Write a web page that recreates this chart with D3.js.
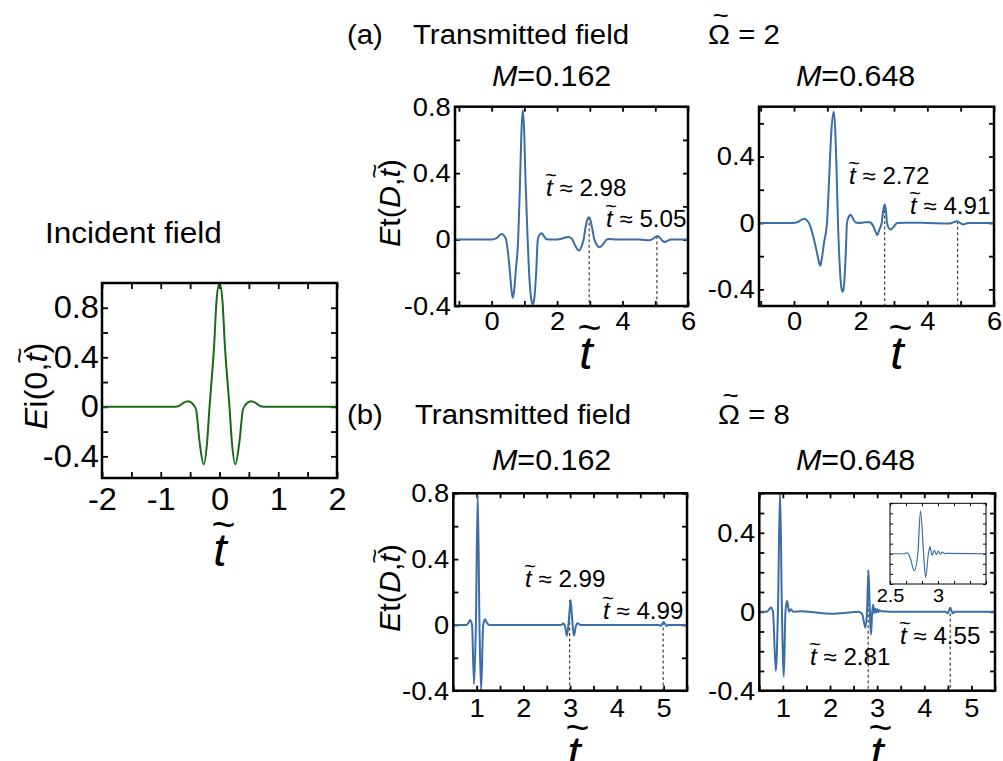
<!doctype html>
<html>
<head>
<meta charset="utf-8">
<style>
  body { margin: 0; background: #fff; }
  svg { display: block; font-family: "Liberation Sans", Arial, sans-serif; }
  text { white-space: pre; fill: #000; }
  .tick line { stroke: #000; stroke-width: 1.8; }
</style>
<script src="https://d3js.org/d3.v7.min.js"></script>
</head>
<body>
<svg width="1003" height="761"></svg>
<script>
// ---- data ----
// incident pulse E_i(0,t)
var incT = [-2, -0.8, -0.7, -0.62, -0.54, -0.47, -0.4, -0.34, -0.27, -0.21, -0.17, -0.12, -0.093, -0.05, 0,
            0.05, 0.093, 0.12, 0.17, 0.21, 0.27, 0.34, 0.4, 0.47, 0.54, 0.62, 0.7, 0.8, 2];
var incE = [0, 0, 0.005, 0.03, 0.045, 0.03, -0.02, -0.28, -0.465, -0.28, 0, 0.3, 0.48, 0.86, 1.0,
            0.86, 0.48, 0.3, 0, -0.28, -0.465, -0.28, -0.02, 0.03, 0.045, 0.03, 0.005, 0, 0];

// (a) Omega=2, M=0.162
var aLoT = [-1.1, 0, 0.15, 0.25, 0.32, 0.39, 0.44, 0.5, 0.56, 0.61, 0.645, 0.68, 0.74, 0.81, 0.86, 0.91, 0.95, 0.99,
            1.04, 1.1, 1.16, 1.22, 1.26, 1.3, 1.36, 1.41, 1.47, 1.53, 1.6, 1.68, 1.9, 2.1, 2.25, 2.35, 2.45, 2.55,
            2.67, 2.74, 2.81, 2.88, 2.94, 2.97, 3.0, 3.06, 3.14, 3.22, 3.3, 3.4, 3.51, 3.6, 3.8, 4.5, 4.84, 4.95,
            5.06, 5.15, 5.22, 5.3, 5.38, 5.5, 6];
var aLoE = [0, 0, 0.008, 0.028, 0.034, 0.02, 0, -0.08, -0.2, -0.31, -0.35, -0.32, -0.18, 0, 0.3, 0.65, 0.78, 0.67,
            0.33, 0, -0.25, -0.37, -0.39, -0.36, -0.2, 0, 0.03, 0.038, 0.02, 0.002, 0, 0.004, 0.012, 0.016, 0.005, -0.035,
            -0.066, -0.045, 0, 0.085, 0.128, 0.134, 0.13, 0.08, 0, -0.035, -0.046, -0.03, 0, 0.004, 0, 0, -0.004, 0.008,
            0.022, 0.01, -0.008, -0.014, -0.006, 0, 0];

// (a) Omega=2, M=0.648
var aHiT = [-1.05, -0.03, 0.1, 0.2, 0.32, 0.4, 0.45, 0.52, 0.6, 0.7, 0.76, 0.79, 0.83, 0.9, 0.99, 1.05, 1.12, 1.19,
            1.24, 1.28, 1.32, 1.37, 1.43, 1.47, 1.51, 1.55, 1.59, 1.65, 1.7, 1.76, 1.85, 2.0, 2.15, 2.27, 2.38, 2.45,
            2.5, 2.56, 2.63, 2.68, 2.72, 2.76, 2.79, 2.84, 2.9, 2.98, 3.1, 3.3, 4.0, 4.67, 4.8, 4.88, 4.98, 5.08,
            5.18, 5.3, 6];
var aHiE = [0, 0, 0.005, 0.016, 0.026, 0.012, 0, -0.04, -0.1, -0.19, -0.245, -0.257, -0.22, -0.12, 0, 0.25, 0.55, 0.67,
            0.55, 0.3, 0, -0.25, -0.4, -0.415, -0.35, -0.2, 0, 0.04, 0.05, 0.03, 0.003, 0, 0.005, 0.004, -0.02, -0.055,
            -0.072, -0.04, 0, 0.08, 0.111, 0.07, 0, -0.03, -0.04, -0.025, 0, 0.002, 0, -0.003, 0.005, 0.01, 0, -0.01,
            -0.002, 0, 0];

// (b) Omega=8, M=0.162
var bLoT = [0.5, 0.78, 0.83, 0.86, 0.9, 0.944, 0.983, 1.023, 1.06, 1.094, 1.14, 1.18, 1.22, 1.27, 2.8, 2.86, 2.9,
            2.93, 2.97, 3.01, 3.045, 3.08, 3.12, 3.16, 3.22, 4.9, 4.94, 5.0, 5.06, 5.1, 5.5];
var bLoE = [0, 0, 0.015, 0.03, 0, -0.36, 0, 0.79, 0, -0.4, 0, 0.034, 0.012, 0, 0, 0.008, -0.02,
            -0.066, 0.02, 0.151, 0.03, -0.066, -0.01, 0.01, 0, 0, -0.006, 0.018, -0.006, 0, 0];

// (b) Omega=8, M=0.648
var bHiT = [0.5, 0.66, 0.72, 0.75, 0.79, 0.85, 0.895, 0.94, 0.98, 1.02, 1.055, 1.09, 1.13, 1.17, 1.22, 1.4, 1.7,
            2.0, 2.3, 2.6, 2.68, 2.75, 2.785, 2.815, 2.845, 2.87, 2.895, 2.917, 2.937, 2.962, 2.983, 3.004, 3.025,
            3.046, 3.09, 3.3, 4.45, 4.5, 4.55, 4.6, 4.65, 5.5];
var bHiE = [0, 0, 0.015, 0.022, 0, -0.3, 0, 0.61, 0, -0.328, 0, 0.056, 0, 0.012, 0, 0.003, -0.004,
            -0.01, -0.006, 0, -0.01, -0.08, 0, 0.21, 0, -0.115, 0, 0.035, -0.008, 0.017, -0.004, 0.013, -0.002,
            0.008, 0.002, 0, 0, -0.008, 0.02, -0.008, 0, 0];

// inset: zoom of the second pulse (M=0.648, Omega=8)
var insT = [2.5, 2.65, 2.68, 2.71, 2.752, 2.79, 2.818, 2.85, 2.871, 2.9, 2.917, 2.937, 2.962, 2.983, 3.004,
            3.025, 3.046, 3.07, 3.1, 3.5];
var insE = [0, 0, 0.005, -0.02, -0.084, 0, 0.213, 0, -0.117, 0, 0.035, -0.008, 0.017, -0.004, 0.013,
            -0.002, 0.008, 0.001, 0.002, 0];

// marked arrival times and the field there (dashed lines)
var aLoMarkT = [2.98, 5.05], aLoMarkE = [0.134, 0.022];
var aHiMarkT = [2.72, 4.91], aHiMarkE = [0.111, 0.01];
var bLoMarkT = [2.99, 4.99], bLoMarkE = [0.151, 0.018];
var bHiMarkT = [2.81, 4.55], bHiMarkE = [0.21, 0.02];

// tick values and labels
var incXTicks = [-2, -1.5, -1, -0.5, 0, 0.5, 1, 1.5, 2], incXLabels = [-2, -1, 0, 1, 2];
var incYTicks = [-0.4, -0.2, 0, 0.2, 0.4, 0.6, 0.8], incYLabels = [-0.4, 0, 0.4, 0.8];
var aXTicks = [-1, 0, 1, 2, 3, 4, 5, 6], aXLabels = [0, 2, 4, 6];
var aLoYTicks = [-0.4, -0.2, 0, 0.2, 0.4, 0.6, 0.8], aLoYLabels = [-0.4, 0, 0.4, 0.8];
var aHiYTicks = [-0.4, -0.2, 0, 0.2, 0.4, 0.6], aHiYLabels = [-0.4, 0, 0.4];
var bXTicks = [0.5, 1, 1.5, 2, 2.5, 3, 3.5, 4, 4.5, 5, 5.5], bXLabels = [1, 2, 3, 4, 5];
var bLoYTicks = [-0.4, -0.2, 0, 0.2, 0.4, 0.6, 0.8], bLoYLabels = [-0.4, 0, 0.4, 0.8];
var bHiYTicks = [-0.4, -0.3, -0.2, -0.1, 0, 0.1, 0.2, 0.3, 0.4, 0.5, 0.6], bHiYLabels = [-0.4, 0, 0.4];
var insXTicks = [2.5, 2.667, 2.833, 3, 3.167, 3.333, 3.5], insXLabels = [2.5, 3];
var insYTicks = [-0.15, -0.1, -0.05, 0, 0.05, 0.1, 0.15, 0.2, 0.25];

var BLUE = "#3b6da6", GREEN = "#176b17";
var SX = 1.05;  // text in the figure is a bit wide

var svg = d3.select("svg");
svg.append("rect").attr("width", 1003).attr("height", 761).attr("fill", "#fff");

// text made of pieces; style: i = italic, ~ = tilde on top, O = tall glyph
function rich(parent, x, y, size, parts, opts) {
    opts = opts || {};
    var g = parent.append("g")
        .attr("transform", "translate(" + x + "," + y + ")" + (opts.rot ? " rotate(" + opts.rot + ")" : "") + " scale(" + SX + ",1)");
    var inner = g.append("g");
    var cx = 0;
    parts.forEach(function(p) {
        var st = p[1] || "";
        var it = st.indexOf("i") >= 0;
        var t = inner.append("text")
            .attr("x", cx).attr("y", 0)
            .attr("font-size", size)
            .attr("font-style", it ? "italic" : "normal")
            .text(p[0]);
        var w = t.node().getComputedTextLength();
        if (st.indexOf("~") >= 0) {
            var tall = st.indexOf("O") >= 0;
            inner.append("text")
                .attr("x", cx + w / 2 + (it ? size * 0.07 : 0) + (tall ? size * 0.06 : 0))
                .attr("y", -size * (tall ? 0.72 : 0.6))
                .attr("text-anchor", "middle")
                .attr("font-size", size * (tall ? 0.95 : 0.85))
                .text("~");
        }
        cx += w;
    });
    if (opts.anchor === "middle") inner.attr("transform", "translate(" + (-cx / 2) + ",0)");
    return g;
}

function has(arr, d) { return arr.some(function(v) { return Math.abs(v - d) < 1e-6; }); }
function labeler(arr) { return function(d) { return has(arr, d) ? String(+d.toFixed(2)) : ""; }; }

function styleAxis(g, fs) {
    g.attr("font-size", fs).attr("font-family", null);
    g.select(".domain").remove();
    g.selectAll(".tick text").attr("transform", "scale(" + SX + ",1)");
}

var clipId = 0;
function drawPanel(p) {
    var x = d3.scaleLinear().domain(p.xd).range([p.x0, p.x1]);
    var y = d3.scaleLinear().domain(p.yd).range([p.y1, p.y0]);
    var tl = p.tl || 5;

    if (p.fill) {
        svg.append("rect").attr("x", p.x0).attr("y", p.y0)
           .attr("width", p.x1 - p.x0).attr("height", p.y1 - p.y0).attr("fill", "#fff");
    }

    var axes = svg.append("g");
    axes.append("g").attr("transform", "translate(0," + p.y1 + ")")
       .call(d3.axisBottom(x).tickValues(p.xt).tickFormat(labeler(p.xl)).tickSizeInner(-tl).tickSizeOuter(0).tickPadding(p.xpad))
       .call(styleAxis, p.fs);
    axes.append("g").attr("transform", "translate(0," + p.y0 + ")")
       .call(d3.axisTop(x).tickValues(p.xt).tickFormat("").tickSizeInner(-tl).tickSizeOuter(0))
       .call(styleAxis, p.fs);
    axes.append("g").attr("transform", "translate(" + p.x0 + ",0)")
       .call(d3.axisLeft(y).tickValues(p.yt).tickFormat(labeler(p.yl || [])).tickSizeInner(-tl).tickSizeOuter(0).tickPadding(p.ypad || 4))
       .call(styleAxis, p.fs);
    axes.append("g").attr("transform", "translate(" + p.x1 + ",0)")
       .call(d3.axisRight(y).tickValues(p.yt).tickFormat("").tickSizeInner(-tl).tickSizeOuter(0))
       .call(styleAxis, p.fs);
    if (p.fw) axes.selectAll(".tick line").style("stroke-width", 1);

    var id = "clip" + (clipId++);
    svg.append("clipPath").attr("id", id).append("rect")
       .attr("x", p.x0).attr("y", p.y0).attr("width", p.x1 - p.x0).attr("height", p.y1 - p.y0);

    // dashed markers
    if (p.mt) {
        svg.append("g").selectAll("line").data(p.mt).join("line")
           .attr("x1", function(d) { return x(d); }).attr("x2", function(d) { return x(d); })
           .attr("y1", function(d, i) { return y(p.me[i]); }).attr("y2", p.y1)
           .attr("stroke", "#333").attr("stroke-width", 1.1).attr("stroke-dasharray", "3,2.5");
    }

    var line = d3.line().x(function(d) { return x(d[0]); }).y(function(d) { return y(d[1]); })
                 .curve(d3.curveMonotoneX);
    svg.append("path")
       .datum(d3.zip(p.t, p.e))
       .attr("clip-path", "url(#" + id + ")")
       .attr("fill", "none").attr("stroke", p.color).attr("stroke-width", p.lw || 2)
       .attr("stroke-linejoin", "round")
       .attr("d", line);

    svg.append("rect").attr("x", p.x0).attr("y", p.y0)
       .attr("width", p.x1 - p.x0).attr("height", p.y1 - p.y0)
       .attr("fill", "none").attr("stroke", "#000").attr("stroke-width", p.fw || 2.5);
    return { x: x, y: y };
}

// incident field
drawPanel({ x0: 102, x1: 337, y0: 283, y1: 478, xd: [-2, 2], yd: [-0.575, 1.0],
            t: incT, e: incE, color: GREEN, xt: incXTicks, xl: incXLabels, yt: incYTicks, yl: incYLabels,
            fs: 31, xpad: 10, ypad: 3, tl: 6 });
// (a)
drawPanel({ x0: 455, x1: 688, y0: 106.7, y1: 306, xd: [-1.12, 6], yd: [-0.4, 0.8],
            t: aLoT, e: aLoE, color: BLUE, xt: aXTicks, xl: aXLabels, yt: aLoYTicks, yl: aLoYLabels,
            mt: aLoMarkT, me: aLoMarkE, fs: 26, xpad: 6, ypad: 4 });
drawPanel({ x0: 759, x1: 994, y0: 106.7, y1: 306, xd: [-1.05, 6], yd: [-0.5, 0.7],
            t: aHiT, e: aHiE, color: BLUE, xt: aXTicks, xl: aXLabels, yt: aHiYTicks, yl: aHiYLabels,
            mt: aHiMarkT, me: aHiMarkE, fs: 26, xpad: 6, ypad: 4 });
// (b)
drawPanel({ x0: 453.3, x1: 687, y0: 493.3, y1: 690.7, xd: [0.5, 5.5], yd: [-0.4, 0.8],
            t: bLoT, e: bLoE, color: BLUE, xt: bXTicks, xl: bXLabels, yt: bLoYTicks, yl: bLoYLabels,
            mt: bLoMarkT, me: bLoMarkE, fs: 26, xpad: 8, ypad: 4 });
drawPanel({ x0: 759.3, x1: 995, y0: 493.3, y1: 690.7, xd: [0.5, 5.5], yd: [-0.4, 0.6],
            t: bHiT, e: bHiE, color: BLUE, xt: bXTicks, xl: bXLabels, yt: bHiYTicks, yl: bHiYLabels,
            mt: bHiMarkT, me: bHiMarkE, fs: 26, xpad: 8, ypad: 4 });
// inset
drawPanel({ x0: 890, x1: 986, y0: 503.3, y1: 584, xd: [2.5, 3.5], yd: [-0.15, 0.25],
            t: insT, e: insE, color: BLUE, xt: insXTicks, xl: insXLabels, yt: insYTicks, yl: [],
            fs: 19, xpad: 5, tl: 3, lw: 1.2, fw: 1, fill: true });

// titles and labels
rich(svg, 347, 44, 28, [["(a)"]]);
rich(svg, 413, 44, 28, [["Transmitted field"]]);
rich(svg, 708, 44, 28, [["\u03A9", "O~"], [" = 2"]]);
rich(svg, 347, 424, 28, [["(b)"]]);
rich(svg, 415, 424, 28, [["Transmitted field"]]);
rich(svg, 718, 424, 28, [["\u03A9", "O~"], [" = 8"]]);

rich(svg, 492, 86, 29, [["M", "i"], ["=0.162"]]);
rich(svg, 796, 86, 29, [["M", "i"], ["=0.648"]]);
rich(svg, 492, 470, 29, [["M", "i"], ["=0.162"]]);
rich(svg, 796, 470, 29, [["M", "i"], ["=0.648"]]);

rich(svg, 45, 243, 30, [["Incident field"]]);

// axis labels
var tLab = [["t", "i~"]];
rich(svg, 220, 566, 46, tLab, { anchor: "middle" });
rich(svg, 586, 369, 46, tLab, { anchor: "middle" });
rich(svg, 897, 369, 46, tLab, { anchor: "middle" });
rich(svg, 574, 769, 46, tLab, { anchor: "middle" });
rich(svg, 877, 769, 46, tLab, { anchor: "middle" });

var eiLab = [["E", "i"], ["i"], ["(0,"], ["t", "i~"], [")"]];
var etLab = [["E", "i"], ["t"], ["("], ["D", "i"], [","], ["t", "i~"], [")"]];
rich(svg, 47, 386, 31, eiLab, { rot: -90, anchor: "middle" });
rich(svg, 400, 203, 29, etLab, { rot: -90, anchor: "middle" });
rich(svg, 400, 588, 29, etLab, { rot: -90, anchor: "middle" });

// arrival time annotations
function note(x, y, v) { rich(svg, x, y, 23, [["t", "i~"], [" \u2248 " + v]]); }
note(546, 196, "2.98"); note(606, 227, "5.05");
note(849, 184, "2.72"); note(910, 214, "4.91");
note(525, 587, "2.99"); note(603, 619, "4.99");
note(810, 665, "2.81"); note(900, 644, "4.55");
</script>
</body>
</html>
